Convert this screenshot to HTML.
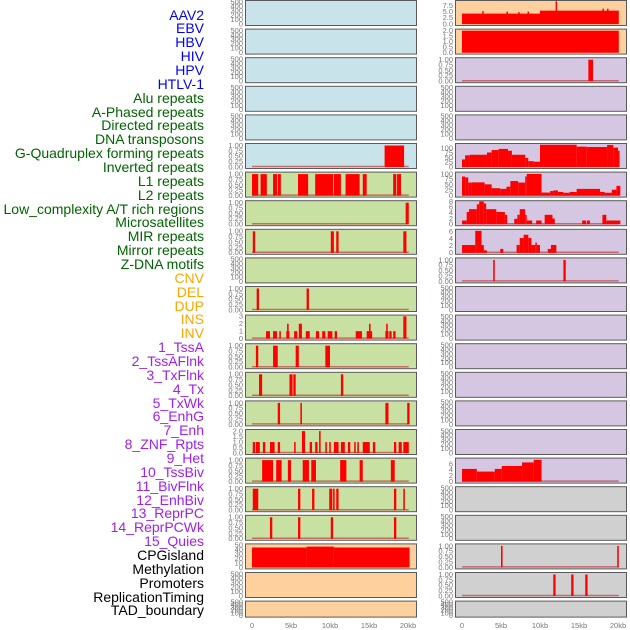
<!DOCTYPE html>
<html><head><meta charset="utf-8"><style>
body{margin:0;background:#fff;width:630px;height:630px;overflow:hidden;font-family:"Liberation Sans",sans-serif}
#lab{position:absolute;left:0;top:0;width:204px}
#lab div{position:absolute;right:0;font-size:14px;line-height:14px;white-space:nowrap}
svg{position:absolute;left:0;top:0}
</style></head><body>
<div id="lab"></div>
<svg id="c" width="630" height="630"></svg>
<script>
const labels=["AAV2","EBV","HBV","HIV","HPV","HTLV-1","Alu repeats","A-Phased repeats","Directed repeats","DNA transposons","G-Quadruplex forming repeats","Inverted repeats","L1 repeats","L2 repeats","Low_complexity A/T rich regions","Microsatellites","MIR repeats","Mirror repeats","Z-DNA motifs","CNV","DEL","DUP","INS","INV","1_TssA","2_TssAFlnk","3_TxFlnk","4_Tx","5_TxWk","6_EnhG","7_Enh","8_ZNF_Rpts","9_Het","10_TssBiv","11_BivFlnk","12_EnhBiv","13_ReprPC","14_ReprPCWk","15_Quies","CPGisland","Methylation","Promoters","ReplicationTiming","TAD_boundary"];
const labelColors=["#0000ff","#006400","#ffa500","#a020f0","#000000"];
const labelGroups=[6,13,5,15,5];
const xTicks=[0,5,10,15,20];
const xTickLabels=["0","5kb","10kb","15kb","20kb"];
const T500=[0,100,200,300,400,500];
const T1=[0,0.25,0.5,0.75,1];
const L5=[[17,19.5,1]];
const L6=[[0,0.8,1],[1.1,1.9,1],[2.7,3.2,1],[3.3,3.7,1],[5.9,7.2,1],[8.1,10.4,1],[10.5,11.4,1],[12,13.8,1],[14.2,14.7,1],[18.1,18.5,1],[18.6,19.1,1]];
const L7=[[19.7,20.1,1]];
const L8=[[0.1,0.4,1],[10.1,10.5,1],[10.8,11.1,1],[19.4,19.8,1]];
const L10=[[0.6,0.9,1],[7,7.3,1]];
const L11=[[1.8,2.3,1],[2.7,3.2,1],[3.5,3.7,1],[4.4,4.8,1],[4.5,4.7,2],[5.4,5.8,1],[6,6.4,2],[6.9,7.4,1],[8.2,8.6,1],[9,9.4,1],[9.7,10.3,1],[10.6,10.9,1],[13.3,14.1,1],[14.7,15.4,1],[15,15.2,2],[17.1,17.5,1],[17.2,17.4,2],[17.6,17.9,1],[18.1,18.4,1],[19.4,19.8,3]];
const L12=[[0.5,0.8,1],[2.7,3.3,1],[5.6,6,1],[9.4,10,1]];
const L13=[[0.9,1.3,1],[4.8,5.2,1],[5.3,5.6,1],[11.4,11.7,1]];
const L14=[[3.3,3.6,1],[6.2,6.4,1],[17.1,17.5,1],[19.9,20.2,1]];
const L15=[[0.1,0.4,1],[0.5,1,1],[1.4,1.7,1],[2.3,2.9,1],[3.3,3.6,1],[5.4,5.6,1],[6.4,6.8,2],[7.4,7.7,1],[8.1,8.4,1],[8.6,8.8,2],[9.4,9.6,1],[9.9,10.1,1],[10.5,11.1,1],[11.4,11.9,1],[12.3,12.6,1],[13.1,13.3,1],[13.5,13.7,1],[14.2,15.1,1],[15.5,15.8,1],[18.2,18.5,1],[18.8,19.2,1],[19.4,20.1,1]];
const L16=[[1.3,2.7,1],[3.1,3.8,1],[4.6,5,1],[6.5,7.3,1],[7.6,8.2,1],[11.3,12.1,1],[13.8,14.2,1],[17.8,18.3,1]];
const L17=[[0.1,0.8,1],[5.9,6.2,1],[7.7,8,1],[9.9,10.3,1],[10.4,10.6,1],[10.8,11.1,1],[18.2,18.5,1],[19.4,19.6,1]];
const L18=[[2.3,2.6,1],[5.9,6.2,1],[10.1,10.4,1],[18.2,18.5,1]];
const L19=[[0,7,45],[7,10.5,47],[10.5,20.2,45]];
const R0=[[0,10,4.2],[10,20.1,5.4],[2.6,2.7,5.2],[5.7,5.8,5],[7.2,7.3,4.8],[8.4,8.5,5],[12,12.1,9.2],[18,18.1,6.2],[18.6,18.7,6.2]];
const R1=[[0,20.1,2]];
const R2=[[16.2,16.8,1]];
const R5=[[0,0.4,40],[0.4,1,62],[1,3.2,65],[3.2,3.8,77],[3.8,4.7,90],[4.7,5.9,96],[5.9,6.4,86],[6.4,8.1,65],[8.1,8.5,48],[8.5,9.2,31],[9.2,10,28],[10,14.7,118],[14.7,16,108],[16,18.6,106],[18.6,19.4,117],[19.4,20,103],[20,20.2,86]];
const R6=[[0,0.4,88],[0.4,0.8,84],[0.8,1.2,60],[1.2,2.9,61],[2.9,3.8,52],[3.8,4.9,34],[4.9,5.7,31],[5.7,6.2,41],[6.2,7.2,67],[7.2,8.1,60],[8.1,8.3,88],[8.3,10.2,100],[10.2,11.3,14],[11.3,11.7,21],[11.7,12.3,24],[12.3,13,17],[13,13.8,13],[13.8,14.7,17],[14.7,17.7,31],[17.7,18.3,17],[18.3,19.2,13],[19.2,19.8,27],[19.8,20.3,45]];
const R7=[[0,0.6,1.3],[0.6,0.9,4.3],[0.9,1.9,5.3],[1.9,2.2,7],[2.2,2.8,8],[2.8,3.1,7.3],[3.1,4.4,5.3],[4.4,5.5,4.3],[5.5,5.8,3.3],[6.7,7.1,1.9],[7.1,7.4,3.3],[7.4,8.1,5.3],[8.1,8.3,3.3],[8.3,9,1.3],[9.5,10.2,1.3],[10.6,11.6,3.3],[11.6,11.9,2],[15.4,15.9,1.3],[16,16.4,1.3],[18,18.5,3.3],[18.5,20.3,1.3]];
const R8=[[0,1.7,2.2],[1.7,2.5,6.2],[2.5,2.8,2.2],[2.8,3.2,0.7],[4.9,5.3,1.1],[7,7.4,2.2],[7.4,7.9,4.2],[7.9,8.5,5.1],[8.5,8.9,4.2],[8.9,9.4,2.2],[9.4,9.6,2.9],[9.6,10,2.2],[11,11.4,1.1],[11.4,12.1,2.2]];
const R9=[[4,4.2,1],[13,13.3,1]];
const R16=[[0,1.9,4.3],[1.9,4.2,3.4],[4.2,5.1,4.3],[5.1,7.7,5.3],[7.7,9.2,6.5],[9.2,10.2,7.4]];
const R19=[[5,5.2,1],[19.9,20.1,1]];
const R20=[[11.7,12,1],[14,14.3,1],[15.8,16.1,1]];

const BL="#c8e4ea",GR="#c8e0a2",PE="#fdd09d",LV="#d5c6e2",GY="#d0d0d0";
function P(bg,bars,ymax,ticks){return {bg,bars,ymax,ticks};}
const E=(bg)=>P(bg,null,520,T500);
const left=[E(BL),E(BL),E(BL),E(BL),E(BL),P(BL,L5,1.07,T1),P(GR,L6,1.07,T1),P(GR,L7,1.07,T1),P(GR,L8,1.07,T1),E(GR),
 P(GR,L10,1.07,T1),P(GR,L11,3.1,[0,1,2,3]),P(GR,L12,1.07,T1),P(GR,L13,1.07,T1),P(GR,L14,1.07,T1),P(GR,L15,2.1,[0,0.5,1,1.5,2]),
 P(GR,L16,1.07,T1),P(GR,L17,1.07,T1),P(GR,L18,1.07,T1),P(PE,L19,52,[0,10,20,30,40,50]),E(PE),E(PE)];
const right=[P(PE,R0,9.3,[0,2.5,5,7.5]),P(PE,R1,2.1,[0,0.5,1,1.5,2]),P(LV,R2,1.07,T1),E(LV),E(LV),P(LV,R5,122,[0,25,50,75,100]),
 P(LV,R6,106,[0,25,50,75,100]),P(LV,R7,8.1,[0,2,4,6,8]),P(LV,R8,6.5,[0,2,4,6]),P(LV,R9,1.07,T1),E(LV),E(LV),E(LV),E(LV),E(LV),E(LV),
 P(LV,R16,7.8,[0,2,4,6]),E(GY),E(GY),P(GY,R19,1.07,T1),P(GY,R20,1.07,T1),E(GY)];

const NS="http://www.w3.org/2000/svg";
const svg=document.getElementById('c');
function el(t,a,p){const e=document.createElementNS(NS,t);for(const k in a)e.setAttribute(k,a[k]);(p||svg).appendChild(e);return e;}
function fmt(v,ticks){const dec=ticks.some(t=>t%1!==0);if(!dec)return String(v);const two=ticks.some(t=>(t*100)%10!==0);return v.toFixed(two?2:1);}

const lab=document.getElementById('lab');
let gi=0,cnt=0;
labels.forEach((t,i)=>{
  const d=document.createElement('div');
  d.textContent=t;
  d.style.top=(15+i*13.86-7.5)+'px';
  d.style.color=labelColors[gi];
  
  
  lab.appendChild(d);
  cnt++; if(cnt>=labelGroups[gi]){gi++;cnt=0;}
});

function drawPanel(p,x0,row){
  const top=row*28.6, h=row===21?16:25, w=171;
  const g=el('g',{});
  
  
  const r=el('rect',{x:x0+0.5,y:top+0.5,width:w,height:h,fill:p.bg,stroke:'#5a5a5a','stroke-width':1},g);
  
  
  const bot=top+h-1, ph=h-2;
  const yS=v=>bot-v/p.ymax*ph;
  const xS=k=>x0+7+k*7.8;
  p.ticks.forEach(t=>{
    const tx=el('text',{x:x0-2,y:yS(t)+2.4,'font-size':7.5,fill:'#777','text-anchor':'end','font-family':'Liberation Sans, sans-serif'},g);
    tx.textContent=fmt(t,p.ticks);
    
    
  });
  if(p.bars){
    const bl=el('line',{x1:xS(0),x2:xS(20.1),y1:bot-0.5,y2:bot-0.5,stroke:'#c04040','stroke-width':1.5,opacity:0.7},g);
    
    
    p.bars.forEach(b=>{
      const x1=xS(b[0]),x2=xS(b[1]),y=Math.max(top+1,yS(b[2]));
      const rr=el('rect',{x:x1,y:y,width:Math.max(1.5,x2-x1),height:bot-y,fill:'#ff0000'},g);
      
      
    });
  }
}
left.forEach((p,i)=>drawPanel(p,245,i));
right.forEach((p,i)=>drawPanel(p,455,i));
[245,455].forEach(x0=>{
  xTicks.forEach((k,i)=>{
    const t=el('text',{x:x0+7+k*7.8,y:628,'font-size':7.5,fill:'#777','text-anchor':'middle','font-family':'Liberation Sans, sans-serif'});
    t.textContent=xTickLabels[i];
    
    
  });
});
</script>
</body></html>
